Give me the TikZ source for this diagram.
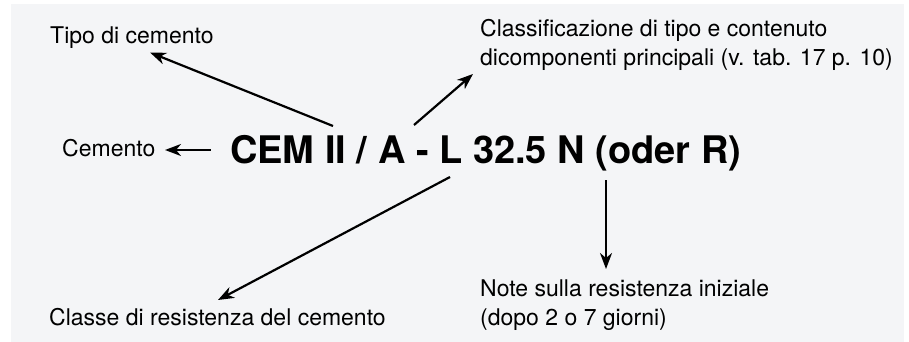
\documentclass[tikz,border=0pt]{standalone}
\usepackage{fontspec}
\setmainfont{TeX Gyre Heros}
\usetikzlibrary{arrows.meta}
\definecolor{bggray}{RGB}{244,245,247}
\begin{document}
\begin{tikzpicture}[x=1pt,y=-1pt,
  lbl/.style={anchor=base west,inner sep=0pt,font=\fontsize{23}{28.8}\selectfont},
  mainlbl/.style={anchor=base west,inner sep=0pt,font=\bfseries\fontsize{38}{45}\selectfont},
  arr/.style={-{Stealth[length=16pt,width=12pt,inset=5pt]},line width=2.2pt,black}]
\useasboundingbox (0,0) rectangle (909,342);
\fill[white] (0,0) rectangle (909,342);
\fill[bggray] (11,4) rectangle (904,342);
% nodes
\node[mainlbl] (main) at (230,163.5) {CEM II / A - L 32.5 N (oder R)};
\node[lbl] (tipo) at (50,43.3) {Tipo di cemento};
\node[lbl] (cem) at (62,156.7) {Cemento};
\node[lbl] (class) at (480,37) {\begin{tabular}[t]{@{}l@{}}Classificazione di tipo e contenuto\\dicomponenti principali (v. tab. 17 p. 10)\end{tabular}};
\node[lbl] (res) at (49,325) {Classe di resistenza del cemento};
\node[lbl] (note) at (480,296.5) {\begin{tabular}[t]{@{}l@{}}Note sulla resistenza iniziale\\(dopo 2 o 7 giorni)\end{tabular}};
% connector ends
\coordinate (tA) at (333,126);  \coordinate (hA) at (150,52.5);
\coordinate (tB) at (210.5,150); \coordinate (hB) at (165,150);
\coordinate (tC) at (414,125);  \coordinate (hC) at (473,74);
\coordinate (tD) at (450,177);  \coordinate (hD) at (218,300);
\coordinate (tE) at (606,180);  \coordinate (hE) at (606,269);
% connectors
\draw[arr] (tA) -- (hA);
\draw[arr] (tB) -- (hB);
\draw[arr] (tC) -- (hC);
\draw[arr] (tD) -- (hD);
\draw[arr] (tE) -- (hE);
\end{tikzpicture}
\end{document}
